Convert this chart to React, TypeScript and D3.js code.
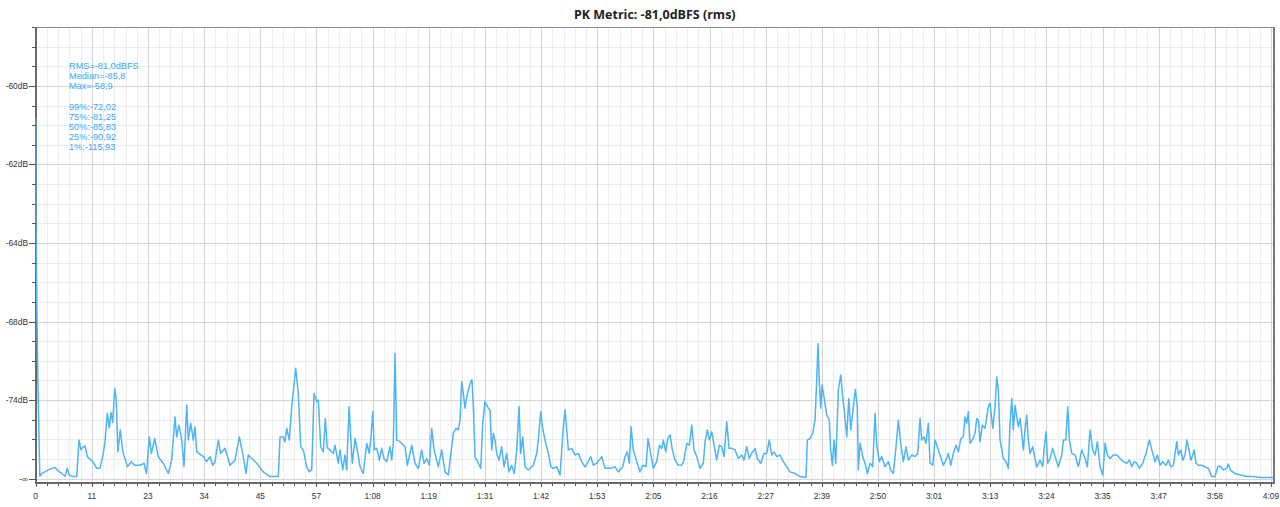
import React from 'react';
import * as d3 from 'd3';

const W = 1280;
const H = 507;

const chartTitle = 'PK Metric: -81,0dBFS (rms)';
const statsSummary = ['RMS=-81,0dBFS', 'Median=-85,8', 'Max=-58,9'];
const statsPercentiles = ['99%:-72,02', '75%:-81,25', '50%:-85,83', '25%:-90,92', '1%:-115,93'];

// track length (s) and time axis labels
const trackSeconds = 249.4;
const xTickLabels = ['0', '11', '23', '34', '45', '57', '1:08', '1:19', '1:31', '1:42', '1:53', '2:05', '2:16', '2:27', '2:39', '2:50', '3:01', '3:13', '3:24', '3:35', '3:47', '3:58', '4:09'];

// level axis: linear RMS amplitude in units of 1e-4 full scale
const yTickLevels = [0, 2, 4, 6, 8, 10];
const yTickLabels = ['-\u221e', '-74dB', '-68dB', '-64dB', '-62dB', '-60dB'];

// [time (s), rms amplitude (x1e-4 FS)]
const rmsTrace: [number, number][] = [
  [0, 9.18], [0.06, 6.41], [0.26, 4.11], [0.46, 2.33], [0.67, 1.06], [0.83, 0.06], [1.27, 0.14], [1.88, 0.17], [2.54, 0.22], [3.23, 0.26], [3.9, 0.28], [4.56, 0.19], [5.25, 0.13], [5.92, 0.06], [6.38, 0.26], [6.72, 0.09], [7.59, 0.05], [8.28, 0.05], [8.74, 0.98], [9.15, 0.73], [9.55, 0.8], [9.95, 0.83], [10.42, 0.56], [11.63, 0.42], [12.32, 0.26], [12.98, 0.26], [13.65, 0.64], [13.99, 0.94], [14.46, 1.66], [14.86, 1.29], [15.2, 1.68], [15.55, 1.43], [15.95, 2.3], [16.27, 2.0], [16.58, 0.68], [17.08, 1.24], [17.59, 0.68], [18.53, 0.3], [19.28, 0.43], [19.95, 0.34], [21.06, 0.34], [21.87, 0.39], [22.37, 0.13], [22.92, 1.06], [23.36, 0.64], [24.03, 1.02], [24.75, 0.55], [25.76, 0.39], [26.77, 0.13], [27.46, 0.47], [28.12, 1.57], [28.47, 1.06], [28.93, 1.36], [29.48, 0.98], [29.94, 0.3], [30.49, 1.87], [30.81, 0.98], [31.29, 1.41], [31.82, 0.98], [32.16, 1.32], [32.51, 0.68], [33.84, 0.56], [34.52, 0.43], [35.19, 0.56], [35.74, 0.34], [36.2, 0.43], [36.87, 0.98], [37.35, 0.64], [38.22, 0.77], [39.23, 0.34], [40.24, 0.47], [41.11, 1.06], [41.91, 0.56], [42.46, 0.13], [42.92, 0.6], [43.61, 0.51], [44.62, 0.39], [45.95, 0.17], [47.31, 0.05], [48.98, 0.05],
  [49.32, 1.06], [49.99, 1.06], [50.33, 0.94], [50.68, 1.28], [51.2, 0.98], [51.69, 1.83], [52.49, 2.81], [53.02, 2.17], [53.5, 0.81], [54.03, 0.73], [54.71, 0.3], [55.24, 0.17], [55.72, 0.22], [56.19, 2.17], [56.73, 1.96], [57.06, 2.0], [57.54, 0.81], [58.07, 0.68], [58.47, 1.53], [58.87, 0.78], [59.42, 0.73], [60.09, 0.64], [60.43, 0.85], [61.1, 0.39], [61.44, 0.73], [61.98, 0.22], [62.45, 0.6], [62.79, 0.22], [63.26, 1.83], [63.6, 1.06], [63.92, 0.39], [64.47, 1.02], [64.93, 0.73], [65.48, 0.3], [66.14, 0.13], [66.83, 0.9], [67.35, 0.64], [67.7, 1.06], [68.04, 1.7], [68.36, 0.73], [68.85, 0.77], [69.37, 0.47], [69.86, 0.77], [70.32, 0.51], [70.87, 0.43], [71.53, 0.81], [71.88, 0.47], [72.2, 0.9], [72.54, 3.19], [72.89, 0.98], [73.55, 0.94], [74.56, 0.81], [75.03, 0.34], [75.92, 0.85], [76.58, 0.39], [77.25, 0.26], [77.93, 0.73], [78.4, 0.39], [78.94, 0.51], [79.47, 0.34], [79.95, 1.28], [80.42, 0.73], [81.28, 0.3], [81.97, 0.73], [82.64, 0.17], [83.3, 0.09], [83.99, 0.81], [84.31, 1.15], [84.86, 1.28], [85.32, 1.24], [85.67, 1.49], [86.01, 2.47], [86.33, 2.17], [86.68, 1.79], [87.02, 2.08], [87.34, 2.25], [87.83, 2.47], [88.09, 2.51], [88.35, 1.83], [88.7, 0.56], [89.36, 0.39], [89.85, 0.26], [90.25, 1.41], [90.71, 1.96], [91.38, 1.79], [91.72, 1.75], [92.07, 0.73], [92.39, 1.15], [92.73, 0.98], [93.07, 0.64], [93.54, 0.47], [94.08, 0.81], [94.55, 0.3], [95.09, 0.64], [95.56, 0.17], [96.1, 0.34], [96.63, 0.13], [97.11, 0.73], [97.58, 1.83], [97.92, 0.64], [98.33, 1.06], [98.79, 0.3], [99.46, 0.22],
  [100.47, 0.34], [101.15, 0.64], [101.47, 0.98], [101.96, 1.7], [102.36, 1.28], [102.83, 0.98], [103.49, 0.64], [104.04, 0.3], [104.5, 0.26], [105.19, 0.3], [105.86, 0.09], [106.52, 1.32], [106.87, 1.75], [107.21, 1.24], [107.53, 0.73], [108.22, 0.77], [108.88, 0.6], [109.55, 0.64], [110.24, 0.43], [110.9, 0.3], [111.57, 0.43], [112.05, 0.56], [112.58, 0.34], [113.27, 0.39], [114.28, 0.56], [114.94, 0.26], [115.95, 0.26], [116.96, 0.3], [117.63, 0.17], [117.97, 0.22], [118.52, 0.3], [118.98, 0.56], [119.44, 0.68], [119.85, 0.39], [120.19, 1.32], [120.65, 0.73], [121.34, 0.43], [122.01, 0.17], [122.55, 0.34], [123.22, 0.3], [123.62, 1.02], [124.03, 0.73], [124.69, 0.26], [125.38, 0.43], [125.9, 0.85], [126.39, 0.77], [126.71, 0.98], [127.2, 0.68], [127.6, 1.02], [128.07, 1.11], [128.53, 0.73], [129.07, 0.47], [129.74, 0.34], [130.43, 0.34], [130.89, 0.47], [131.44, 0.9], [131.96, 0.85], [132.45, 1.36], [132.91, 0.73], [133.46, 0.56], [134.12, 0.26], [134.79, 0.39], [135.13, 0.94], [135.6, 1.24], [136.0, 0.98], [136.49, 1.19], [136.95, 0.85], [137.49, 0.47], [138.02, 0.85], [138.5, 0.81], [138.97, 0.56], [139.51, 1.45], [139.98, 0.77], [140.52, 0.77], [141.19, 0.73], [141.86, 0.51], [142.54, 0.6], [143.01, 0.47], [143.55, 0.81], [144.08, 0.51], [144.56, 0.64], [145.23, 0.77], [145.69, 0.51], [146.38, 0.39], [147.04, 0.64], [147.59, 0.64], [148.11, 0.98], [148.6, 0.6], [149.06, 0.68], [149.61, 0.56],
  [150.27, 0.6], [150.94, 0.43], [151.63, 0.3], [152.29, 0.17], [153.3, 0.13], [154.31, 0.05], [155.52, 0.03], [155.78, 0.98], [156.33, 1.02], [156.87, 1.15], [157.34, 1.49], [157.68, 2.51], [157.94, 3.44], [158.21, 2.43], [158.49, 1.79], [158.75, 2.38], [159.15, 2.08], [159.7, 1.62], [160.22, 1.49], [160.5, 0.73], [160.83, 0.34], [161.17, 0.98], [161.52, 0.39], [162.04, 2.25], [162.53, 2.64], [162.93, 2.08], [163.26, 1.7], [163.74, 1.06], [164.15, 2.04], [164.55, 1.24], [165.08, 1.83], [165.48, 2.27], [165.88, 1.83], [166.08, 0.22], [166.43, 0.9], [166.97, 0.56], [167.44, 0.39], [167.9, 0.13], [168.45, 0.39], [168.99, 0.3], [169.45, 1.66], [169.8, 0.85], [170.32, 0.43], [170.81, 0.56], [171.47, 0.3], [172.14, 0.43], [172.62, 0.22], [173.15, 0.13], [173.69, 0.81], [174.16, 1.49], [174.64, 0.9], [175.17, 0.43], [175.71, 0.81], [176.18, 0.47], [176.86, 0.6], [177.53, 0.56], [178.07, 0.64], [178.54, 1.53], [178.88, 0.98], [179.35, 1.06], [179.75, 0.9], [180.22, 1.41], [180.56, 0.39], [181.1, 0.34], [181.57, 0.98], [182.03, 0.81], [182.58, 0.6], [183.24, 0.34], [183.79, 0.47], [184.25, 0.64], [184.74, 0.34], [185.26, 0.64], [185.81, 0.85], [186.27, 0.68], [186.76, 1.02], [187.28, 1.06], [187.62, 1.57], [187.97, 1.41], [188.29, 1.7], [188.63, 0.9], [189.1, 0.98], [189.64, 1.15], [189.99, 1.53], [190.31, 1.49], [190.65, 0.94], [191.12, 1.36], [191.66, 1.28], [192.33, 1.83], [192.67, 1.92], [193.22, 1.28], [193.68, 1.83], [194.02, 2.59], [194.35, 2.25], [194.69, 0.98], [195.36, 0.51], [195.9, 0.43], [196.37, 0.26], [196.71, 1.41], [197.05, 2.04], [197.38, 1.24], [197.72, 1.87], [198.06, 1.57], [198.38, 1.32], [198.73, 1.53], [199.07, 1.15], [199.39, 0.73], [199.74, 1.24],
  [200.08, 1.62], [200.4, 0.98], [200.75, 0.64], [201.29, 0.81], [201.76, 0.51], [202.1, 0.3], [202.77, 0.47], [203.31, 0.3], [203.57, 0.73], [203.98, 1.19], [204.32, 0.39], [204.79, 0.51], [205.33, 0.77], [205.8, 0.56], [206.46, 0.3], [207.15, 0.6], [207.47, 0.98], [207.96, 0.98], [208.36, 1.83], [208.69, 0.98], [209.17, 0.64], [209.84, 0.6], [210.5, 0.3], [211.19, 0.73], [211.86, 0.51], [212.32, 0.3], [212.87, 1.24], [213.41, 0.73], [213.88, 0.6], [214.34, 0.94], [214.89, 0.3], [215.43, 0.09], [215.9, 0.9], [216.36, 0.6], [216.91, 0.51], [217.57, 0.6], [218.26, 0.6], [218.92, 0.51], [219.59, 0.43], [220.27, 0.39], [220.8, 0.47], [221.28, 0.3], [221.75, 0.43], [222.29, 0.39], [222.82, 0.26], [223.5, 0.39], [224.17, 0.64], [224.84, 0.98], [225.32, 0.73], [225.99, 0.43], [226.45, 0.6], [227.0, 0.34], [227.54, 0.43], [228.21, 0.34], [228.68, 0.47], [229.16, 0.3], [229.69, 0.34], [230.37, 0.94], [230.7, 0.6], [231.18, 0.73], [231.59, 0.47], [232.05, 0.6], [232.39, 0.98], [232.8, 0.77], [233.2, 0.47], [233.61, 0.6], [233.87, 0.73], [234.28, 0.39], [234.73, 0.34], [235.42, 0.34], [236.08, 0.3], [236.75, 0.26], [237.43, 0.05], [238.1, 0.05], [238.64, 0.3], [239.11, 0.32], [239.78, 0.22], [240.46, 0.26], [240.79, 0.37], [241.27, 0.2], [242.14, 0.13], [243.15, 0.09], [244.5, 0.06], [245.84, 0.05], [247.19, 0.03], [249.87, 0.03],
];

const LINE_COLOR = '#4db4f6';
const TEXT_BLUE = '#35a9f7';
const AXIS_FONT = "'Liberation Sans', Arial, sans-serif";

export default function App() {
  const plotLeft = 35.5;
  const plotRight = 1274;
  const plotTop = 27;
  const plotBottom = 482.5;

  const x = d3.scaleLinear().domain([0, 250]).range([35.7, plotRight]);
  const y = d3.scaleLinear().domain([-0.1, 11.5]).range([plotBottom, plotTop]);

  const nInt = xTickLabels.length - 1;
  const step = trackSeconds / nInt;
  const xMajor = xTickLabels.map((_, i) => i * step);
  const xMinor: number[] = [];
  for (let i = 0; i < nInt; i++) for (let j = 1; j < 5; j++) xMinor.push((i + j / 5) * step);

  const yMinor = d3.range(0, 11.51, 0.5).filter((v) => !yTickLevels.includes(v));

  const crisp = (v: number) => Math.round(v) + 0.5;

  const line = d3
    .line<[number, number]>()
    .x((d) => x(d[0]))
    .y((d) => y(d[1]));

  return (
    <svg width={W} height={H} style={{ position: 'absolute', left: 0, top: 0, background: '#fff' }}>
      <defs>
        <clipPath id="plotClip">
          <rect x={plotLeft} y={plotTop} width={plotRight - plotLeft} height={plotBottom - plotTop} />
        </clipPath>
      </defs>
      <rect x={0} y={0} width={W} height={H} fill="#fff" />

      {/* minor grid */}
      <g stroke="#ececec" strokeWidth={1} shapeRendering="crispEdges">
        {xMinor.map((t, i) => (
          <line key={'xm' + i} x1={crisp(x(t))} x2={crisp(x(t))} y1={plotTop} y2={plotBottom} />
        ))}
        {yMinor.map((v, i) => (
          <line key={'ym' + i} x1={plotLeft} x2={plotRight} y1={crisp(y(v))} y2={crisp(y(v))} />
        ))}
      </g>
      {/* major grid */}
      <g stroke="#d4d4d4" strokeWidth={1} shapeRendering="crispEdges">
        {xMajor.map((t, i) => (
          <line key={'xM' + i} x1={crisp(x(t))} x2={crisp(x(t))} y1={plotTop} y2={plotBottom} />
        ))}
        {yTickLevels.map((v, i) => (
          <line key={'yM' + i} x1={plotLeft} x2={plotRight} y1={crisp(y(v))} y2={crisp(y(v))} />
        ))}
      </g>

      {/* frame */}
      <g shapeRendering="crispEdges">
        <line x1={plotLeft} x2={plotRight} y1={plotTop} y2={plotTop} stroke="#8a8a8a" strokeWidth={1} />
        <line x1={plotRight} x2={plotRight} y1={plotTop} y2={plotBottom} stroke="#777" strokeWidth={2} />
        <line x1={plotLeft} x2={plotRight + 1} y1={plotBottom} y2={plotBottom} stroke="#6a6a6a" strokeWidth={2} />
        <line x1={plotLeft} x2={plotLeft} y1={plotTop} y2={plotBottom + 1} stroke="#6a6a6a" strokeWidth={2} />
      </g>

      {/* data */}
      <path
        d={line(rmsTrace) || ''}
        fill="none"
        stroke={LINE_COLOR}
        strokeWidth={1.5}
        strokeLinejoin="round"
        clipPath="url(#plotClip)"
      />

      {/* y axis ticks & labels */}
      <g stroke="#555" strokeWidth={1} shapeRendering="crispEdges">
        {yTickLevels.map((v, i) => (
          <line key={'ytM' + i} x1={29} x2={plotLeft} y1={crisp(y(v))} y2={crisp(y(v))} />
        ))}
        {yMinor.map((v, i) => (
          <line key={'ytm' + i} x1={32} x2={plotLeft} y1={crisp(y(v))} y2={crisp(y(v))} />
        ))}
      </g>
      <g fontFamily={AXIS_FONT} fontSize={8.4} fill="#333" textAnchor="end">
        {yTickLevels.map((v, i) => (
          <text key={'yl' + i} x={28} y={y(v) + 3}>
            {yTickLabels[i]}
          </text>
        ))}
      </g>

      {/* x axis ticks & labels */}
      <g stroke="#555" strokeWidth={1} shapeRendering="crispEdges">
        {xMajor.map((t, i) => (
          <line key={'xtM' + i} x1={crisp(x(t))} x2={crisp(x(t))} y1={plotBottom} y2={plotBottom + 4} />
        ))}
        {xMinor.map((t, i) => (
          <line key={'xtm' + i} x1={crisp(x(t))} x2={crisp(x(t))} y1={plotBottom} y2={plotBottom + 3} />
        ))}
      </g>
      <g fontFamily={AXIS_FONT} fontSize={8.4} fill="#333" textAnchor="middle">
        {xMajor.map((t, i) => (
          <text key={'xl' + i} x={x(t)} y={499.3}>
            {xTickLabels[i]}
          </text>
        ))}
      </g>

      {/* title */}
      <text
        x={(plotLeft + plotRight) / 2}
        y={19}
        textAnchor="middle"
        fontFamily="'Open Sans', 'Noto Sans', sans-serif"
        fontWeight={700}
        fontSize={12.5}
        fill="#222"
      >
        {chartTitle}
      </text>

      {/* stats */}
      <g fontFamily={AXIS_FONT} fontSize={9.2} fill={TEXT_BLUE}>
        {statsSummary.map((s, i) => (
          <text key={'s' + i} x={69} y={69 + i * 10}>
            {s}
          </text>
        ))}
        {statsPercentiles.map((s, i) => (
          <text key={'p' + i} x={69} y={109.8 + i * 10}>
            {s}
          </text>
        ))}
      </g>
    </svg>
  );
}
